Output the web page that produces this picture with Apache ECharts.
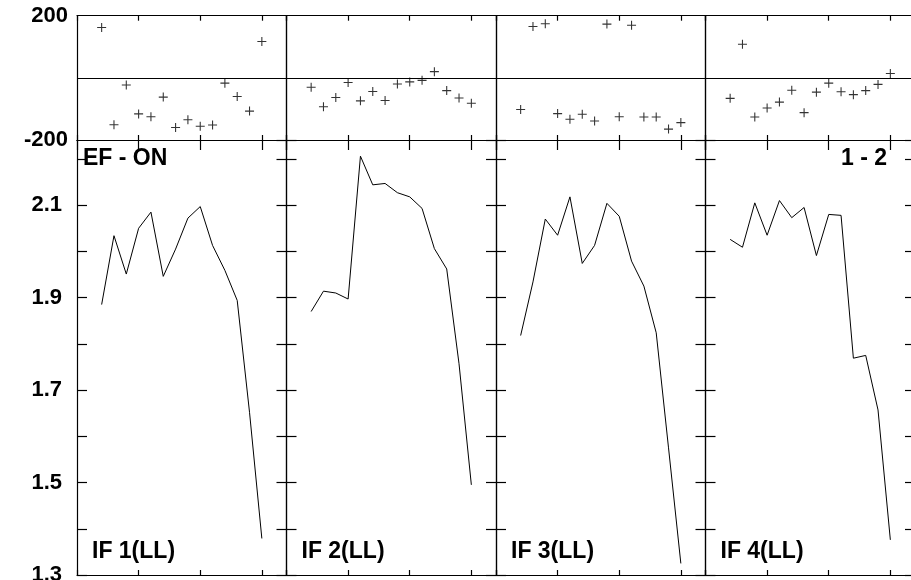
<!DOCTYPE html>
<html>
<head>
<meta charset="utf-8">
<script src="https://cdn.jsdelivr.net/npm/echarts@6/dist/echarts.min.js"></script>
<style>
html,body{margin:0;padding:0;background:#fff;}
#chart{width:911px;height:580px;}
</style>
</head>
<body>
<div id="chart"></div>
<script>
// Sample positions (x axis runs 0..17, ticks every 5)
var xs = [2, 3, 4, 5, 6, 7, 8, 9, 10, 11, 12, 13, 14, 15];

// Residuals (top strips)
var res1 = [162, -151, -23, -116, -125, -62, -160, -135, -156, -152, -17, -60, -107, 117];
var res2 = [-30, -93, -63, -15, -74, -44, -73, -20, -13, -8, 20, -41, -65, -82];
var res3 = [-102, 165, 174, -115, -133, -117, -139, 173, -125, 169, -126, -126, -165, -144];
var res4 = [-66, 108, -126, -97, -78, -40, -112, -46, -17, -45, -54, -41, -21, 14];

// Main values (bottom panels)
var val1 = [1.885, 2.034, 1.951, 2.050, 2.085, 1.946, 2.005, 2.072, 2.097, 2.013, 1.959, 1.894, 1.652, 1.379];
var val2 = [1.870, 1.914, 1.910, 1.897, 2.206, 2.144, 2.147, 2.127, 2.118, 2.093, 2.006, 1.962, 1.757, 1.495];
var val3 = [1.818, 1.934, 2.070, 2.035, 2.118, 1.974, 2.013, 2.104, 2.076, 1.979, 1.925, 1.824, 1.575, 1.325];
var val4 = [2.026, 2.009, 2.105, 2.035, 2.110, 2.073, 2.095, 1.991, 2.080, 2.078, 1.769, 1.775, 1.657, 1.376];

var panelLabels = ['IF 1(LL)', 'IF 2(LL)', 'IF 3(LL)', 'IF 4(LL)'];
var titleLeft = 'EF - ON';
var titleRight = '1 - 2';

var resAll = [res1, res2, res3, res4];
var valAll = [val1, val2, val3, val4];

var lefts = [77, 286.5, 496, 705.5];
var pw = 209.5;
var topT = 15.7, topH = 124.3;
var botT = 140, botH = 435;

var FONT = 'Liberation Sans';
var grids = [], xAxes = [], yAxes = [], series = [], graphics = [];

function pairs(v) { return xs.map(function (x, i) { return [x, v[i]]; }); }

for (var p = 0; p < 4; p++) {
  for (var row = 0; row < 2; row++) {
    var g = grids.length;
    var isTop = row === 0;
    grids.push({left: lefts[p], width: pw, top: isTop ? topT : botT, height: isTop ? topH : botH,
      containLabel: false, outerBoundsMode: 'none'});
    var axLine = {show: true, onZero: false, lineStyle: {color: '#000', width: 1.2}};
    xAxes.push({gridIndex: g, type: 'value', min: 0, max: 17, interval: 5, position: 'bottom',
      axisLine: axLine, axisTick: {show: true, inside: true, length: 5, lineStyle: {color: '#000', width: 1.2}},
      axisLabel: {show: false}, splitLine: {show: false}});
    xAxes.push({gridIndex: g, type: 'value', min: 0, max: 17, interval: 5, position: 'top',
      axisLine: axLine, axisTick: {show: true, inside: true, length: isTop ? 5 : 10, lineStyle: {color: '#000', width: 1.2}},
      axisLabel: {show: false}, splitLine: {show: false}});
    if (isTop) {
      yAxes.push({gridIndex: g, type: 'value', min: -200, max: 200, interval: 200, position: 'left',
        axisLine: axLine, axisTick: {show: true, inside: true, length: 10, lineStyle: {color: '#000'}},
        axisLabel: {show: p === 0, margin: 9, color: '#000', fontFamily: FONT, fontWeight: 'bold', fontSize: 22,
          verticalAlignMinLabel: 'middle', verticalAlignMaxLabel: 'middle',
          formatter: function (v) { return v === 0 ? '' : String(v); }},
        splitLine: {show: true, lineStyle: {color: '#000', width: 1}}});
      yAxes.push({gridIndex: g, type: 'value', min: -200, max: 200, interval: 200, position: 'right',
        axisLine: axLine, axisTick: {show: true, inside: true, length: 10, lineStyle: {color: '#000'}},
        axisLabel: {show: false}, splitLine: {show: false}});
      series.push({type: 'scatter', xAxisIndex: 2 * g, yAxisIndex: 2 * g, data: pairs(resAll[p]),
        symbol: 'path://M4.4,0h1.2v4.4h4.4v1.2h-4.4v4.4h-1.2v-4.4h-4.4v-1.2h4.4z', symbolSize: 9,
        itemStyle: {color: '#000'}, silent: true, animation: false});
    } else {
      yAxes.push({gridIndex: g, type: 'value', min: 1.3, max: 2.241, interval: 0.1, position: 'left',
        axisLine: axLine, axisTick: {show: true, inside: true, length: 10, lineStyle: {color: '#000', width: 1.2}},
        axisLabel: {show: p === 0, margin: 15, color: '#000', fontFamily: FONT, fontWeight: 'bold', fontSize: 22,
          showMaxLabel: false, verticalAlignMinLabel: 'middle',
          formatter: function (v) { var k = Math.round(v * 10); return (k % 2 === 1 && Math.abs(v * 10 - k) < 1e-6) ? v.toFixed(1) : ''; }},
        splitLine: {show: false}});
      yAxes.push({gridIndex: g, type: 'value', min: 1.3, max: 2.241, interval: 0.1, position: 'right',
        axisLine: axLine, axisTick: {show: true, inside: true, length: 10, lineStyle: {color: '#000', width: 1.2}},
        axisLabel: {show: false}, splitLine: {show: false}});
      series.push({type: 'line', xAxisIndex: 2 * g, yAxisIndex: 2 * g, data: pairs(valAll[p]),
        symbol: 'none', lineStyle: {color: '#000', width: 1}, silent: true, animation: false});
      graphics.push({type: 'text', left: lefts[p] + 15, top: 540,
        style: {text: panelLabels[p], font: 'bold 23px "' + FONT + '"', fill: '#000'}});
    }
  }
}

graphics.push({type: 'text', left: 83, top: 147,
  style: {text: titleLeft, font: 'bold 23px "' + FONT + '"', fill: '#000'}});
graphics.push({type: 'text', left: 841, top: 147,
  style: {text: titleRight, font: 'bold 23px "' + FONT + '"', fill: '#000'}});

var chart = echarts.init(document.getElementById('chart'), null, {renderer: 'canvas'});
chart.setOption({
  animation: false,
  backgroundColor: '#fff',
  grid: grids,
  xAxis: xAxes,
  yAxis: yAxes,
  series: series,
  graphic: graphics
});
</script>
</body>
</html>
